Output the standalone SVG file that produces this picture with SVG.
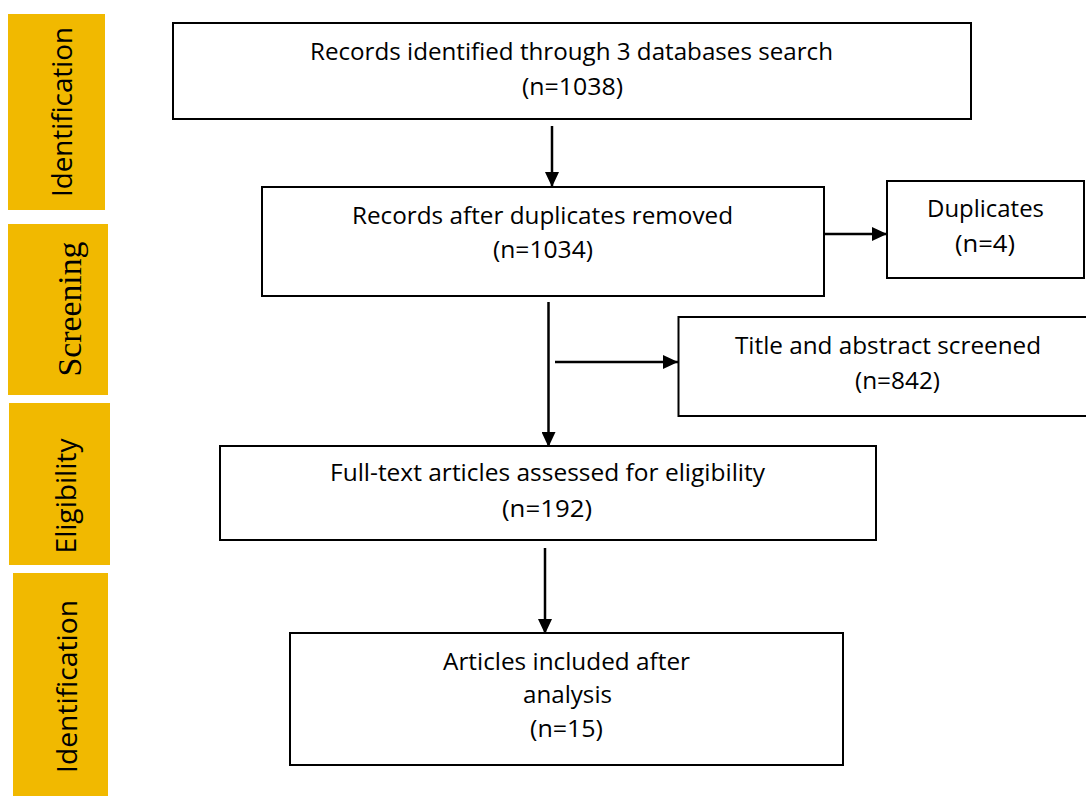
<svg xmlns="http://www.w3.org/2000/svg" width="1086" height="796" viewBox="0 0 1086 796">
  <style>
    .band { fill: #F1B900; }
    .box { fill: #ffffff; stroke: #000000; stroke-width: 2; }
    .t { font-family: "Open Sans", "Liberation Sans", sans-serif; font-size: 23px; fill: #000000; text-anchor: middle; }
    .side { font-family: "Open Sans", "Liberation Sans", sans-serif; font-size: 28px; fill: #000000; text-anchor: middle; }
    .sideSerif { font-family: "Liberation Serif", "DejaVu Serif", serif; font-size: 34px; fill: #000000; text-anchor: middle; }
    .conn { stroke: #000000; stroke-width: 2.5; fill: none; }
  </style>
  <defs>
    <marker id="arrow" markerUnits="userSpaceOnUse" markerWidth="15" markerHeight="14" refX="15" refY="7" orient="auto">
      <path d="M0,0 L15,7 L0,14 z" fill="#000000"/>
    </marker>
  </defs>
  <rect x="0" y="0" width="1086" height="796" fill="#ffffff"/>

  <g id="stage-identification-1">
    <rect class="band" x="8" y="14" width="97" height="196"/>
    <text class="side" transform="translate(72,112) rotate(-90)" textLength="170" lengthAdjust="spacingAndGlyphs">Identification</text>
  </g>
  <g id="stage-screening">
    <rect class="band" x="8" y="224" width="100" height="171"/>
    <text class="sideSerif" transform="translate(81,309) rotate(-90)" textLength="135" lengthAdjust="spacingAndGlyphs">Screening</text>
  </g>
  <g id="stage-eligibility">
    <rect class="band" x="9" y="403" width="101" height="162"/>
    <text class="side" transform="translate(76,496) rotate(-90)" textLength="115" lengthAdjust="spacingAndGlyphs">Eligibility</text>
  </g>
  <g id="stage-identification-2">
    <rect class="band" x="13" y="573" width="95" height="223"/>
    <text class="side" transform="translate(76.5,686.5) rotate(-90)" textLength="173" lengthAdjust="spacingAndGlyphs">Identification</text>
  </g>

  <g id="connectors">
    <line class="conn" x1="552" y1="126" x2="552" y2="187" marker-end="url(#arrow)"/>
    <line class="conn" x1="824" y1="234" x2="887" y2="234" marker-end="url(#arrow)"/>
    <line class="conn" x1="548.5" y1="302" x2="548.5" y2="447" marker-end="url(#arrow)"/>
    <line class="conn" x1="555" y1="362" x2="678" y2="362" marker-end="url(#arrow)"/>
    <line class="conn" x1="545" y1="548" x2="545" y2="634" marker-end="url(#arrow)"/>
  </g>

  <g id="node-records-identified">
    <rect class="box" x="173" y="23" width="798" height="96"/>
    <text class="t" x="571.5" y="60" textLength="523" lengthAdjust="spacingAndGlyphs">Records identified through 3 databases search</text>
    <text class="t" x="572.5" y="95" textLength="101" lengthAdjust="spacingAndGlyphs">(n=1038)</text>
  </g>
  <g id="node-after-duplicates">
    <rect class="box" x="262" y="187" width="562" height="109"/>
    <text class="t" x="542.5" y="224" textLength="381" lengthAdjust="spacingAndGlyphs">Records after duplicates removed</text>
    <text class="t" x="543" y="258" textLength="100" lengthAdjust="spacingAndGlyphs">(n=1034)</text>
  </g>
  <g id="node-duplicates">
    <rect class="box" x="887" y="181" width="197" height="97"/>
    <text class="t" x="985.5" y="217" textLength="117" lengthAdjust="spacingAndGlyphs">Duplicates</text>
    <text class="t" x="985" y="252" textLength="60" lengthAdjust="spacingAndGlyphs">(n=4)</text>
  </g>
  <g id="node-title-abstract">
    <rect class="box" x="678.5" y="317" width="420" height="99"/>
    <text class="t" x="888" y="354" textLength="306" lengthAdjust="spacingAndGlyphs">Title and abstract screened</text>
    <text class="t" x="897.5" y="389" textLength="85" lengthAdjust="spacingAndGlyphs">(n=842)</text>
  </g>
  <g id="node-full-text">
    <rect class="box" x="220" y="446" width="656" height="94"/>
    <text class="t" x="547.5" y="481" textLength="435" lengthAdjust="spacingAndGlyphs">Full-text articles assessed for eligibility</text>
    <text class="t" x="547" y="517" textLength="90" lengthAdjust="spacingAndGlyphs">(n=192)</text>
  </g>
  <g id="node-included">
    <rect class="box" x="290" y="633" width="553" height="132"/>
    <text class="t" x="566.5" y="670" textLength="247" lengthAdjust="spacingAndGlyphs">Articles included after</text>
    <text class="t" x="567.5" y="703" textLength="89" lengthAdjust="spacingAndGlyphs">analysis</text>
    <text class="t" x="566.5" y="737" textLength="73" lengthAdjust="spacingAndGlyphs">(n=15)</text>
  </g>
</svg>
